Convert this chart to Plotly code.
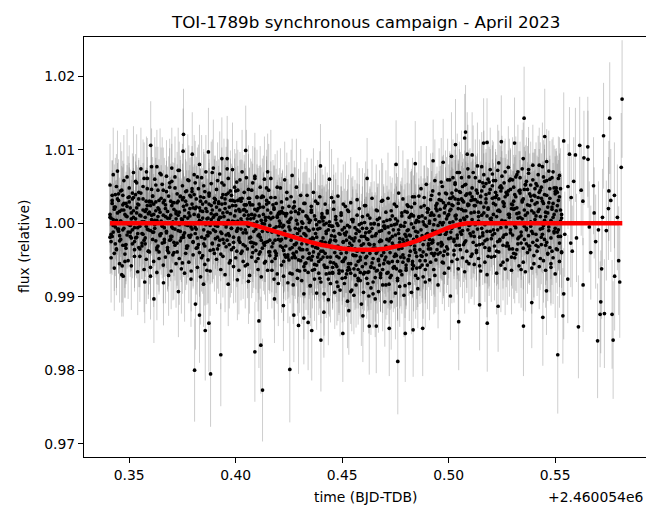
import plotly.graph_objects as go

# time offsets relative to BJD-TDB 2460054 (days)
BJD_OFFSET_LABEL = "+2.460054e6"

# common time stamps of the synchronous telescopes
time_main = [
 0.3410,0.3415,0.3420,0.3425,0.3430,0.3435,0.3440,0.3445,0.3450,0.3455,0.3460,0.3465,0.3470,0.3475,0.3480,0.3485,0.3490,0.3495,0.3500,0.3505,
 0.3510,0.3515,0.3520,0.3525,0.3530,0.3535,0.3540,0.3545,0.3550,0.3555,0.3560,0.3565,0.3570,0.3575,0.3580,0.3585,0.3590,0.3595,0.3600,0.3605,
 0.3610,0.3615,0.3620,0.3625,0.3630,0.3635,0.3640,0.3645,0.3650,0.3655,0.3660,0.3665,0.3670,0.3675,0.3680,0.3685,0.3690,0.3695,0.3700,0.3705,
 0.3710,0.3715,0.3720,0.3725,0.3730,0.3735,0.3740,0.3745,0.3750,0.3755,0.3760,0.3765,0.3770,0.3775,0.3780,0.3785,0.3790,0.3795,0.3800,0.3805,
 0.3810,0.3815,0.3820,0.3825,0.3830,0.3835,0.3840,0.3845,0.3850,0.3855,0.3860,0.3865,0.3870,0.3875,0.3880,0.3885,0.3890,0.3895,0.3900,0.3905,
 0.3910,0.3915,0.3920,0.3925,0.3930,0.3935,0.3940,0.3945,0.3950,0.3955,0.3960,0.3965,0.3970,0.3975,0.3980,0.3985,0.3990,0.3995,0.4000,0.4005,
 0.4010,0.4015,0.4020,0.4025,0.4030,0.4035,0.4040,0.4045,0.4050,0.4055,0.4060,0.4065,0.4070,0.4075,0.4080,0.4085,0.4090,0.4095,0.4100,0.4105,
 0.4110,0.4115,0.4120,0.4125,0.4130,0.4135,0.4140,0.4145,0.4150,0.4155,0.4160,0.4165,0.4170,0.4175,0.4180,0.4185,0.4190,0.4195,0.4200,0.4205,
 0.4210,0.4215,0.4220,0.4225,0.4230,0.4235,0.4240,0.4245,0.4250,0.4255,0.4260,0.4265,0.4270,0.4275,0.4280,0.4285,0.4290,0.4295,0.4300,0.4305,
 0.4310,0.4315,0.4320,0.4325,0.4330,0.4335,0.4340,0.4345,0.4350,0.4355,0.4360,0.4365,0.4370,0.4375,0.4380,0.4385,0.4390,0.4395,0.4400,0.4405,
 0.4410,0.4415,0.4420,0.4425,0.4430,0.4435,0.4440,0.4445,0.4450,0.4455,0.4460,0.4465,0.4470,0.4475,0.4480,0.4485,0.4490,0.4495,0.4500,0.4505,
 0.4510,0.4515,0.4520,0.4525,0.4530,0.4535,0.4540,0.4545,0.4550,0.4555,0.4560,0.4565,0.4570,0.4575,0.4580,0.4585,0.4590,0.4595,0.4600,0.4605,
 0.4610,0.4615,0.4620,0.4625,0.4630,0.4635,0.4640,0.4645,0.4650,0.4655,0.4660,0.4665,0.4670,0.4675,0.4680,0.4685,0.4690,0.4695,0.4700,0.4705,
 0.4710,0.4715,0.4720,0.4725,0.4730,0.4735,0.4740,0.4745,0.4750,0.4755,0.4760,0.4765,0.4770,0.4775,0.4780,0.4785,0.4790,0.4795,0.4800,0.4805,
 0.4810,0.4815,0.4820,0.4825,0.4830,0.4835,0.4840,0.4845,0.4850,0.4855,0.4860,0.4865,0.4870,0.4875,0.4880,0.4885,0.4890,0.4895,0.4900,0.4905,
 0.4910,0.4915,0.4920,0.4925,0.4930,0.4935,0.4940,0.4945,0.4950,0.4955,0.4960,0.4965,0.4970,0.4975,0.4980,0.4985,0.4990,0.4995,0.5000,0.5005,
 0.5010,0.5015,0.5020,0.5025,0.5030,0.5035,0.5040,0.5045,0.5050,0.5055,0.5060,0.5065,0.5070,0.5075,0.5080,0.5085,0.5090,0.5095,0.5100,0.5105,
 0.5110,0.5115,0.5120,0.5125,0.5130,0.5135,0.5140,0.5145,0.5150,0.5155,0.5160,0.5165,0.5170,0.5175,0.5180,0.5185,0.5190,0.5195,0.5200,0.5205,
 0.5210,0.5215,0.5220,0.5225,0.5230,0.5235,0.5240,0.5245,0.5250,0.5255,0.5260,0.5265,0.5270,0.5275,0.5280,0.5285,0.5290,0.5295,0.5300,0.5305,
 0.5310,0.5315,0.5320,0.5325,0.5330,0.5335,0.5340,0.5345,0.5350,0.5355,0.5360,0.5365,0.5370,0.5375,0.5380,0.5385,0.5390,0.5395,0.5400,0.5405,
 0.5410,0.5415,0.5420,0.5425,0.5430,0.5435,0.5440,0.5445,0.5450,0.5455,0.5460,0.5465,0.5470,0.5475,0.5480,0.5485,0.5490,0.5495,0.5500,0.5505,
 0.5510,0.5515,0.5520,0.5525,0.5530,
]

# telescope 1
flux_tel1 = [
 1.0012,0.9975,1.0038,1.0005,0.9959,1.0022,1.0050,0.9992,1.0031,0.9983,1.0003,1.0045,0.9970,1.0018,0.9948,1.0027,1.0009,0.9988,1.0036,0.9997,
 0.9980,1.0033,1.0008,0.9955,1.0057,1.0014,0.9994,1.0025,0.9965,1.0041,1.0002,0.9985,1.0061,0.9972,1.0019,1.0047,0.9991,1.0030,0.9940,1.0011,
 1.0037,0.9988,1.0004,1.0052,0.9967,1.0021,0.9952,1.0015,1.0066,0.9996,1.0028,0.9978,1.0009,1.0043,0.9963,1.0001,1.0055,0.9982,1.0024,0.9993,
 0.9974,1.0048,1.0013,0.9961,1.0030,1.0072,0.9989,1.0006,0.9946,1.0035,1.0018,0.9998,1.0044,0.9969,1.0058,1.0010,0.9984,1.0026,0.9957,1.0039,
 1.0020,0.9992,1.0063,0.9971,1.0004,1.0036,0.9953,1.0016,1.0051,0.9979,1.0029,0.9936,1.0007,1.0040,0.9987,1.0024,1.0069,0.9964,1.0011,0.9997,
 1.0046,0.9981,1.0027,1.0008,0.9958,1.0055,1.0014,0.9973,1.0033,0.9995,1.0074,0.9986,1.0022,0.9949,1.0038,1.0003,0.9967,1.0049,1.0017,0.9990,
 1.0031,0.9977,1.0059,1.0006,0.9962,1.0018,1.0042,0.9991,1.0025,0.9944,1.0011,1.0034,0.9981,1.0045,0.9968,0.9999,1.0061,0.9972,1.0017,0.9952,
 1.0010,0.9961,1.0035,0.9989,1.0022,0.9946,1.0004,1.0048,0.9975,1.0028,0.9977,1.0035,0.9948,1.0008,0.9993,0.9962,1.0027,0.9931,1.0013,0.9996,
 0.9969,1.0029,0.9995,0.9948,1.0013,0.9980,1.0042,0.9957,1.0001,0.9932,1.0015,0.9981,0.9959,1.0029,0.9971,1.0004,0.9936,0.9992,1.0019,0.9949,
 1.0002,0.9964,1.0027,0.9936,0.9983,1.0009,0.9952,0.9990,0.9915,1.0018,0.9969,0.9992,0.9937,1.0030,0.9981,0.9954,1.0002,0.9925,0.9975,1.0009,
 0.9962,1.0008,0.9940,0.9986,1.0017,0.9924,0.9974,0.9954,0.9996,0.9933,1.0029,0.9977,0.9944,1.0000,0.9914,0.9986,0.9965,1.0011,0.9935,0.9974,
 0.9986,0.9926,0.9977,1.0018,0.9945,0.9995,0.9907,0.9970,1.0005,0.9938,0.9980,0.9956,1.0011,0.9922,0.9989,0.9950,1.0000,0.9961,0.9931,1.0024,
 0.9953,0.9993,0.9918,0.9972,1.0007,0.9941,0.9982,0.9904,0.9999,0.9966,0.9935,1.0017,0.9949,0.9989,0.9926,0.9976,1.0031,0.9960,0.9993,0.9916,
 1.0004,0.9947,0.9976,0.9926,1.0017,0.9982,0.9940,0.9998,0.9958,1.0023,0.9922,0.9991,0.9974,0.9935,1.0010,0.9957,0.9996,0.9915,0.9982,1.0015,
 0.9951,1.0008,0.9971,1.0022,0.9938,0.9994,1.0036,0.9960,0.9982,0.9925,1.0008,0.9949,1.0022,0.9983,0.9961,1.0035,0.9937,0.9996,1.0015,0.9972,
 1.0000,0.9947,1.0038,0.9974,1.0011,0.9929,1.0024,0.9986,0.9958,1.0032,1.0001,0.9969,1.0050,0.9946,1.0021,0.9985,1.0040,0.9958,1.0012,1.0059,
 0.9980,1.0041,1.0024,0.9963,1.0055,1.0006,0.9951,1.0032,1.0069,0.9988,1.0019,1.0050,0.9971,1.0005,1.0038,0.9948,1.0024,1.0063,0.9986,1.0031,
 1.0048,0.9974,1.0015,1.0062,0.9960,1.0029,1.0003,0.9942,1.0036,1.0077,0.9983,1.0022,0.9967,1.0054,1.0010,0.9955,1.0041,1.0006,0.9979,1.0067,
 0.9991,1.0035,1.0058,0.9962,1.0017,1.0082,0.9976,1.0044,1.0001,0.9947,1.0027,1.0070,0.9985,1.0039,0.9969,1.0012,1.0060,0.9954,1.0025,1.0049,
 1.0020,0.9958,1.0066,1.0007,0.9981,1.0045,0.9937,1.0031,1.0088,0.9996,1.0052,0.9972,1.0014,1.0073,0.9964,1.0037,0.9989,1.0059,0.9945,1.0026,
 0.9970,1.0051,1.0016,1.0079,0.9952,1.0034,0.9993,1.0063,0.9978,1.0009,1.0084,0.9959,1.0028,1.0047,0.9940,1.0019,1.0070,0.9987,1.0040,0.9965,
 1.0042,0.9982,1.0065,1.0003,0.9961,
]

# telescope 2
flux_tel2 = [
 1.0008,0.9985,1.0027,0.9997,1.0019,0.9972,1.0004,1.0033,0.9989,1.0016,0.9978,1.0001,1.0038,0.9993,1.0012,0.9966,1.0023,0.9999,1.0029,0.9982,
 1.0014,0.9991,1.0035,0.9975,1.0006,1.0021,0.9986,1.0042,0.9996,1.0010,0.9969,1.0018,1.0002,0.9980,1.0030,0.9992,1.0013,0.9961,1.0024,1.0005,
 0.9988,1.0026,0.9998,1.0017,0.9964,1.0009,1.0031,0.9983,1.0003,0.9973,1.0045,0.9994,1.0020,0.9987,1.0007,1.0037,0.9977,1.0011,0.9995,1.0028,
 1.0019,0.9970,1.0006,1.0040,0.9990,1.0015,0.9976,1.0002,1.0032,0.9984,1.0009,0.9959,1.0025,0.9997,1.0014,0.9981,1.0036,0.9992,1.0021,0.9999,
 0.9994,1.0022,0.9967,1.0011,1.0003,1.0030,0.9981,1.0007,0.9972,1.0043,0.9998,1.0016,0.9988,1.0026,0.9963,1.0005,1.0018,0.9991,1.0034,0.9979,
 1.0012,0.9996,1.0029,0.9977,1.0008,0.9986,1.0039,0.9999,1.0020,0.9968,1.0015,1.0004,0.9983,1.0031,0.9993,1.0024,0.9974,1.0010,1.0044,0.9989,
 1.0003,0.9980,1.0016,0.9992,1.0034,0.9971,1.0011,1.0025,0.9987,1.0006,0.9996,1.0028,0.9974,1.0012,0.9960,1.0007,1.0019,0.9992,1.0035,0.9983,
 0.9985,1.0022,0.9977,1.0000,1.0036,0.9970,1.0008,0.9992,1.0018,0.9961,0.9997,1.0006,0.9968,0.9991,1.0021,0.9977,0.9959,1.0008,0.9984,1.0015,
 1.0000,0.9978,1.0021,0.9963,0.9989,0.9969,1.0013,0.9954,0.9995,1.0005,0.9977,0.9953,1.0021,0.9971,0.9993,0.9961,0.9986,1.0013,0.9966,0.9981,
 0.9972,1.0000,0.9941,0.9985,0.9994,0.9964,1.0006,0.9953,0.9978,1.0015,0.9955,0.9979,0.9944,0.9986,0.9998,0.9966,0.9932,0.9993,0.9962,1.0007,
 0.9980,0.9943,0.9974,1.0000,0.9954,0.9991,0.9932,0.9977,0.9967,0.9996,0.9946,0.9982,1.0009,0.9955,0.9969,0.9936,0.9985,0.9959,0.9991,0.9948,
 0.9951,0.9984,0.9960,0.9997,0.9940,0.9973,0.9932,0.9979,1.0002,0.9956,0.9965,0.9943,0.9991,0.9948,0.9976,0.9922,0.9970,0.9993,0.9961,0.9982,
 0.9987,0.9955,0.9978,0.9934,0.9971,0.9999,0.9946,0.9966,0.9939,0.9983,0.9959,1.0005,0.9951,0.9975,0.9932,0.9990,0.9964,0.9945,0.9996,0.9954,
 0.9965,0.9995,0.9946,0.9979,0.9929,0.9973,0.9991,0.9955,0.9984,0.9938,1.0003,0.9965,0.9979,0.9954,1.0014,0.9947,0.9974,0.9985,0.9936,0.9990,
 0.9991,0.9956,0.9983,1.0012,0.9948,0.9978,0.9964,1.0001,0.9939,0.9988,1.0002,0.9976,0.9956,1.0010,0.9971,0.9998,0.9949,0.9985,1.0020,0.9965,
 0.9978,1.0011,0.9973,0.9990,0.9956,1.0005,1.0020,0.9964,0.9997,0.9985,1.0019,0.9974,0.9998,0.9956,1.0014,0.9985,1.0006,0.9965,1.0027,1.0001,
 1.0019,0.9993,1.0036,0.9978,1.0010,1.0045,0.9984,1.0027,0.9970,1.0004,1.0033,0.9990,1.0017,1.0052,0.9976,1.0009,1.0026,0.9997,1.0041,0.9983,
 1.0005,1.0032,0.9982,1.0024,1.0045,0.9992,1.0015,0.9971,1.0037,1.0011,0.9987,1.0050,0.9998,1.0028,0.9978,1.0019,1.0056,0.9989,1.0007,1.0034,
 1.0027,0.9986,1.0042,1.0009,0.9975,1.0033,1.0016,0.9994,1.0048,0.9981,1.0023,1.0003,0.9969,1.0039,1.0012,1.0058,0.9991,1.0020,0.9984,1.0030,
 0.9997,1.0036,1.0013,0.9979,1.0044,1.0008,0.9988,1.0029,0.9966,1.0018,1.0053,0.9993,1.0025,0.9983,1.0040,1.0002,1.0031,0.9974,1.0014,1.0047,
 1.0010,0.9977,1.0035,1.0019,0.9992,1.0049,0.9985,1.0027,1.0004,0.9970,1.0038,1.0014,0.9995,1.0060,0.9980,1.0022,1.0008,0.9989,1.0043,1.0017,
 1.0024,0.9991,1.0036,0.9982,1.0012,
]

# telescope 3
flux_tel3 = [
 0.9981,1.0007,1.0031,0.9988,1.0022,0.9995,0.9964,1.0014,1.0040,0.9976,1.0003,1.0018,0.9991,1.0027,0.9970,1.0010,0.9984,1.0035,0.9998,1.0021,
 1.0006,0.9972,1.0017,0.9994,1.0039,0.9981,1.0026,0.9967,1.0011,1.0001,0.9986,1.0033,0.9977,1.0008,0.9996,1.0024,0.9962,1.0015,0.9990,1.0029,
 0.9978,1.0012,0.9993,1.0029,1.0004,0.9969,1.0019,0.9985,1.0034,0.9997,1.0011,0.9974,1.0025,0.9989,1.0016,0.9960,1.0007,1.0030,0.9982,1.0002,
 1.0028,0.9992,1.0016,0.9973,1.0011,0.9998,1.0037,0.9980,1.0005,1.0023,0.9987,1.0030,0.9966,1.0007,0.9983,1.0020,0.9995,1.0043,0.9975,1.0012,
 0.9986,1.0033,0.9980,1.0009,0.9960,1.0017,1.0002,1.0026,0.9991,0.9969,1.0020,1.0006,0.9983,1.0037,0.9997,1.0013,0.9973,1.0008,1.0028,0.9989,
 1.0022,0.9965,1.0005,1.0018,0.9988,1.0035,0.9978,1.0009,1.0027,0.9984,0.9999,1.0041,0.9971,1.0013,0.9993,1.0031,0.9981,1.0002,1.0024,0.9962,
 0.9993,1.0019,0.9974,1.0030,1.0002,0.9987,1.0025,0.9969,1.0016,0.9998,1.0034,0.9980,1.0006,0.9974,1.0025,0.9989,1.0011,0.9963,1.0002,1.0020,
 1.0026,0.9981,1.0004,0.9966,1.0012,0.9999,0.9974,1.0031,0.9989,1.0008,0.9956,1.0014,0.9988,0.9973,1.0019,0.9952,0.9995,1.0010,0.9978,1.0003,
 0.9976,1.0016,0.9967,0.9997,0.9957,1.0010,0.9983,1.0002,0.9950,0.9991,1.0007,0.9967,0.9983,0.9956,1.0016,0.9973,0.9999,0.9950,0.9990,0.9964,
 0.9994,0.9954,0.9986,0.9945,1.0010,0.9972,0.9991,0.9959,1.0004,0.9950,0.9980,0.9961,1.0010,0.9967,0.9943,0.9992,0.9958,1.0002,0.9951,0.9975,
 0.9954,0.9998,0.9959,0.9989,0.9940,0.9970,1.0002,0.9947,0.9983,0.9932,0.9990,0.9960,0.9976,0.9941,0.9997,0.9953,0.9965,1.0003,0.9948,0.9975,
 0.9994,0.9953,0.9988,0.9936,0.9967,0.9981,0.9945,1.0005,0.9957,0.9976,0.9929,0.9986,0.9962,0.9937,0.9998,0.9954,0.9982,0.9941,0.9972,0.9933,
 0.9945,0.9979,0.9933,0.9988,0.9959,0.9940,0.9993,0.9952,0.9971,0.9926,0.9986,0.9962,0.9998,0.9943,0.9977,0.9956,0.9937,1.0002,0.9950,0.9969,
 0.9978,0.9933,0.9987,0.9960,0.9997,0.9948,0.9970,0.9941,1.0006,0.9956,0.9948,0.9986,0.9935,0.9997,0.9966,0.9978,0.9953,1.0001,0.9943,0.9977,
 0.9949,0.9984,0.9962,0.9999,0.9944,1.0010,0.9969,0.9989,0.9955,0.9978,1.0009,0.9964,0.9991,0.9943,1.0002,0.9978,1.0007,0.9957,0.9986,0.9970,
 1.0003,0.9965,1.0014,0.9977,0.9998,0.9959,0.9989,1.0017,0.9972,1.0010,0.9985,1.0031,0.9971,1.0001,0.9962,1.0024,0.9988,1.0010,0.9979,1.0017,
 0.9988,1.0025,1.0002,0.9975,1.0033,1.0011,0.9980,1.0020,0.9994,1.0042,0.9985,1.0031,1.0007,0.9974,1.0017,1.0040,0.9991,1.0025,0.9998,1.0014,
 1.0036,0.9988,1.0024,0.9998,0.9970,1.0041,1.0009,0.9981,1.0028,0.9993,1.0055,1.0014,0.9976,1.0033,0.9989,1.0021,0.9963,1.0046,1.0003,0.9984,
 1.0012,0.9969,1.0025,1.0038,0.9991,1.0018,0.9978,1.0051,1.0004,1.0029,0.9984,1.0036,0.9995,0.9973,1.0044,1.0008,0.9987,1.0026,0.9965,1.0019,
 1.0039,0.9994,1.0021,0.9972,1.0014,1.0062,0.9983,1.0006,1.0033,0.9978,1.0011,0.9991,1.0046,0.9969,1.0024,0.9996,1.0017,0.9986,1.0038,1.0005,
 0.9985,1.0028,0.9968,1.0042,1.0009,0.9981,1.0030,0.9997,1.0057,1.0015,0.9974,1.0022,0.9990,1.0034,1.0004,0.9962,1.0027,1.0012,0.9993,1.0048,
 0.9988,1.0031,0.9973,1.0018,1.0007,
]

# telescope 4 (noisier)
flux_tel4 = [
 1.0052,0.9953,0.9982,1.0066,0.9939,1.0039,0.9965,1.0071,0.9992,0.9945,1.0044,0.9930,1.0025,1.0058,0.9958,0.9971,1.0063,0.9949,1.0048,0.9988,
 0.9942,1.0041,1.0069,0.9964,0.9980,1.0055,0.9934,1.0033,0.9955,1.0074,0.9973,1.0050,0.9937,1.0016,0.9951,1.0061,0.9962,1.0029,0.9928,1.0046,
 1.0037,0.9948,1.0060,0.9976,0.9933,1.0045,0.9961,1.0068,0.9986,1.0053,0.9943,1.0031,0.9954,1.0064,0.9967,0.9929,1.0049,0.9978,1.0057,0.9957,
 0.9960,1.0063,0.9945,1.0028,1.0072,0.9952,1.0036,0.9938,1.0051,0.9981,0.9932,1.0043,0.9969,1.0059,0.9947,1.0038,0.9924,1.0047,0.9974,1.0066,
 1.0055,0.9966,0.9940,1.0047,1.0021,0.9927,1.0062,0.9956,1.0035,0.9944,1.0070,0.9983,0.9950,1.0041,0.9935,1.0054,0.9972,1.0075,0.9959,1.0032,
 0.9951,1.0058,0.9970,1.0067,0.9937,1.0026,0.9955,1.0052,0.9930,1.0039,0.9977,1.0061,0.9946,1.0044,0.9964,1.0073,0.9941,1.0030,0.9953,1.0056,
 1.0045,0.9936,1.0033,0.9959,1.0070,0.9948,1.0019,0.9942,1.0062,0.9965,1.0046,0.9929,1.0025,0.9954,1.0055,0.9973,1.0064,0.9948,1.0036,0.9937,
 0.9958,1.0049,0.9927,1.0037,0.9973,1.0060,0.9948,1.0026,0.9936,1.0045,0.9961,1.0061,0.9936,1.0025,0.9924,1.0035,0.9956,1.0049,0.9918,1.0013,
 1.0048,0.9943,1.0014,0.9928,1.0059,0.9954,1.0033,0.9919,1.0023,0.9965,1.0036,0.9931,0.9916,1.0023,0.9953,1.0049,0.9925,1.0014,0.9935,1.0038,
 0.9922,1.0016,0.9904,1.0027,0.9946,1.0038,0.9933,1.0001,0.9915,1.0023,0.9936,1.0042,0.9924,1.0005,0.9905,1.0027,0.9948,1.0036,0.9920,1.0013,
 1.0003,0.9904,1.0026,0.9931,1.0014,0.9896,0.9997,0.9918,1.0035,0.9940,1.0019,0.9906,1.0005,0.9920,1.0037,0.9932,0.9909,1.0014,0.9925,1.0026,
 0.9918,1.0023,0.9931,0.9894,1.0016,0.9937,1.0028,0.9909,1.0005,0.9902,0.9994,0.9916,1.0032,0.9925,1.0020,0.9933,0.9890,1.0009,0.9906,1.0001,
 1.0024,0.9925,1.0011,0.9901,0.9989,0.9912,1.0034,0.9920,1.0000,0.9897,1.0018,0.9936,0.9907,1.0007,0.9930,1.0030,0.9916,0.9996,0.9893,1.0015,
 0.9932,1.0034,0.9917,1.0005,0.9893,1.0010,0.9939,1.0026,0.9905,0.9999,0.9925,1.0041,0.9914,0.9996,0.9930,1.0033,0.9902,1.0016,0.9939,1.0025,
 1.0023,0.9918,1.0010,0.9906,1.0036,0.9942,1.0027,0.9929,1.0004,0.9911,1.0037,0.9940,1.0047,0.9955,0.9927,1.0024,0.9920,1.0053,0.9943,1.0019,
 0.9923,1.0032,0.9959,1.0044,0.9937,1.0058,0.9950,1.0027,0.9916,1.0040,0.9960,1.0056,0.9947,1.0028,0.9932,1.0041,0.9968,1.0059,0.9939,1.0034,
 1.0034,0.9948,1.0062,0.9957,1.0053,0.9970,1.0069,0.9938,1.0043,0.9964,1.0062,0.9953,1.0029,0.9934,1.0053,0.9962,1.0074,0.9945,1.0040,0.9955,
 0.9958,1.0069,0.9944,1.0032,0.9963,1.0078,0.9952,1.0057,0.9935,1.0044,0.9972,1.0066,0.9947,1.0039,0.9930,1.0060,0.9966,1.0073,0.9954,1.0051,
 1.0058,0.9955,1.0035,0.9932,1.0072,0.9961,1.0049,0.9943,1.0064,0.9970,1.0055,0.9938,1.0042,0.9950,1.0076,0.9965,1.0046,0.9936,1.0059,0.9959,
 0.9953,1.0063,0.9964,1.0070,0.9942,1.0041,0.9973,1.0074,0.9947,1.0046,0.9934,1.0057,0.9960,1.0068,0.9969,1.0052,0.9939,1.0079,0.9956,1.0037,
 1.0054,0.9962,1.0066,0.9941,1.0045,0.9971,1.0077,0.9949,1.0039,0.9936,1.0058,0.9958,1.0071,0.9967,0.9945,1.0062,0.9953,1.0048,0.9931,1.0044,
 0.9964,1.0061,0.9948,1.0047,0.9960,
]

# flux uncertainties in units of 1e-4
err_tel1_e4 = [
 42,38,47,40,51,36,44,49,39,45,41,53,37,46,50,43,38,48,40,44, 45,39,50,43,37,48,42,46,52,38,44,41,49,36,47,43,51,40,45,39,
 40,47,43,52,38,45,49,41,37,50,44,39,46,42,53,38,47,43,41,48, 46,41,38,50,44,39,47,52,42,37,45,49,40,43,48,51,38,44,46,41,
 43,49,40,45,52,38,46,41,50,44,37,47,53,42,39,48,45,40,51,43, 39,46,51,42,37,48,44,40,53,45,41,38,47,50,43,39,46,52,44,41,
 47,42,38,49,45,40,51,43,37,46,52,41,44,39,48,50,42,45,38,47, 44,50,41,37,48,43,46,52,39,45,40,49,42,38,51,44,47,41,53,40,
 48,39,45,51,42,46,37,50,43,41,49,44,38,47,52,40,45,42,39,50, 41,47,43,38,52,45,40,49,44,37,46,51,42,48,39,43,50,41,45,38,
 50,43,39,46,41,48,52,38,45,42,37,49,44,40,47,51,43,39,46,42, 45,40,48,42,51,37,44,49,41,46,39,52,43,38,47,45,40,50,42,44,
 42,49,38,45,43,50,41,47,39,52,44,37,48,42,46,40,51,43,38,47, 47,41,51,44,38,46,42,49,40,45,53,39,43,48,41,37,50,44,46,40,
 40,46,43,52,38,47,41,45,50,39,44,48,42,37,51,43,46,40,49,45, 44,38,49,42,46,51,40,43,47,39,52,45,41,48,37,44,50,42,46,39,
 46,43,50,39,45,41,48,53,42,47,38,44,51,40,46,43,49,37,45,52, 41,48,44,52,39,46,43,50,40,47,45,38,49,42,53,44,41,47,39,46,
 48,42,39,47,51,44,40,46,43,52,38,45,49,41,47,50,42,39,46,44, 43,50,45,38,47,41,52,44,49,40,46,39,51,43,48,42,45,37,50,47,
 45,41,48,51,43,39,46,50,42,47,44,52,40,45,49,38,47,43,51,46, 50,47,52,45,49,
]

err_tel2_e4 = [
 48,53,45,57,50,44,55,49,58,46,52,60,47,54,51,45,56,49,53,48, 51,46,56,49,44,58,52,47,55,50,45,57,48,53,46,59,50,44,54,49,
 46,55,50,59,47,52,56,45,53,48,58,51,44,57,49,54,46,52,47,55, 54,48,44,57,51,46,53,59,49,45,55,50,47,52,58,46,54,49,56,48,
 50,56,47,52,59,45,53,48,57,51,44,55,60,49,46,54,52,47,58,50, 47,54,58,49,45,56,51,46,59,52,48,44,55,57,50,47,53,60,51,48,
 55,49,45,56,52,47,58,50,44,53,59,48,51,46,55,57,49,52,45,54, 52,57,48,44,56,50,53,59,46,52,47,56,49,45,58,51,54,48,60,47,
 56,46,52,58,49,53,44,57,50,48,56,51,45,54,59,47,52,49,46,57, 48,54,50,45,59,52,47,56,51,44,53,58,49,55,46,50,57,48,52,45,
 57,50,46,53,48,55,59,45,52,49,44,56,51,47,54,58,50,46,53,49, 52,47,55,49,58,44,51,56,48,53,46,59,50,45,54,52,47,57,49,51,
 49,56,45,52,50,57,48,54,46,59,51,44,55,49,53,47,58,50,45,54, 54,48,58,51,45,53,49,56,47,52,60,46,50,55,48,44,57,51,53,47,
 47,53,50,59,45,54,48,52,57,46,51,55,49,44,58,50,53,47,56,52, 51,45,56,49,53,58,47,50,54,46,59,52,48,55,44,51,57,49,53,46,
 53,50,57,46,52,48,55,60,49,54,45,51,58,47,53,50,56,44,52,59, 48,55,51,59,46,53,50,57,47,54,52,45,56,49,60,51,48,54,46,53,
 55,49,46,54,58,51,47,53,50,59,45,52,56,48,54,57,49,46,53,51, 50,57,52,45,54,48,59,51,56,47,53,46,58,50,55,49,52,44,57,54,
 52,48,55,58,50,46,53,57,49,54,51,59,47,52,56,45,54,50,58,53, 57,54,59,52,56,
]

err_tel3_e4 = [
 50,46,55,48,58,44,52,57,47,53,49,60,45,54,58,51,46,56,48,52, 53,47,58,51,45,56,50,54,60,46,52,49,57,44,55,51,59,48,53,47,
 48,55,51,60,46,53,57,49,45,58,52,47,54,50,61,46,55,51,49,56, 54,49,46,58,52,47,55,60,50,45,53,57,48,51,56,59,46,52,54,49,
 51,57,48,53,60,46,54,49,58,52,45,55,61,50,47,56,53,48,59,51, 47,54,59,50,45,56,52,48,61,53,49,46,55,58,51,47,54,60,52,49,
 55,50,46,57,53,48,59,51,45,54,60,49,52,47,56,58,50,53,46,55, 52,58,49,45,56,51,54,60,47,53,48,57,50,46,59,52,55,49,61,48,
 56,47,53,59,50,54,45,58,51,49,57,52,46,55,60,48,53,50,47,58, 49,55,51,46,60,53,48,57,52,45,54,59,50,56,47,51,58,49,53,46,
 58,51,47,54,49,56,60,46,53,50,45,57,52,48,55,59,51,47,54,50, 53,48,56,50,59,45,52,57,49,54,47,60,51,46,55,53,48,58,50,52,
 50,57,46,53,51,58,49,55,47,60,52,45,56,50,54,48,59,51,46,55, 55,49,59,52,46,54,50,57,48,53,61,47,51,56,49,45,58,52,54,48,
 48,54,51,60,46,55,49,53,58,47,52,56,50,45,59,51,54,48,57,53, 52,46,57,50,54,59,48,51,55,47,60,53,49,56,45,52,58,50,54,47,
 54,51,58,47,53,49,56,61,50,55,46,52,59,48,54,51,57,45,53,60, 49,56,52,60,47,54,51,58,48,55,53,46,57,50,61,52,49,55,47,54,
 56,50,47,55,59,52,48,54,51,60,46,53,57,49,55,58,50,47,54,52, 51,58,53,46,55,49,60,52,57,48,54,47,59,51,56,50,53,45,58,55,
 53,49,56,59,51,47,54,58,50,55,52,60,48,53,57,46,55,51,59,54, 58,55,60,53,57,
]

err_tel4_e4 = [
 56,61,52,64,58,50,63,55,60,53,66,57,51,62,59,54,65,52,58,61, 60,54,63,57,51,66,59,53,62,56,49,64,58,52,61,55,65,50,59,63,
 53,62,57,50,65,59,54,61,56,64,52,58,63,49,60,55,66,57,51,62, 64,55,60,52,58,63,50,61,57,54,66,59,53,62,56,51,65,58,60,54,
 57,63,51,60,55,65,58,52,62,56,50,64,59,53,61,57,54,66,52,60, 61,52,66,58,54,60,56,63,51,65,57,53,62,55,59,64,50,58,61,56,
 55,60,53,64,57,51,62,58,65,54,60,52,63,56,50,61,59,55,64,57, 62,56,59,51,65,58,54,60,53,63,57,66,52,61,55,59,64,50,58,62,
 54,65,57,61,52,59,63,55,60,50,64,58,53,62,56,66,51,60,57,63, 59,53,62,56,64,51,58,61,55,65,52,60,57,63,50,59,54,62,56,61,
 63,57,51,60,55,62,58,53,66,56,61,50,64,59,52,57,63,55,60,54, 52,61,58,64,50,57,62,56,59,53,65,58,51,63,55,60,57,66,54,59,
 60,55,63,51,58,64,53,61,57,52,62,59,56,65,50,58,63,54,61,57, 57,62,54,59,65,52,60,56,63,51,58,64,55,61,53,66,57,59,52,62,
 64,51,60,57,53,62,56,59,65,54,61,50,58,63,57,55,62,52,60,56, 55,63,58,52,61,56,64,50,59,62,54,60,57,65,51,58,63,56,53,61,
 61,57,52,65,56,60,53,62,58,51,64,55,59,57,63,50,60,54,62,58, 58,64,55,61,50,59,63,57,52,66,56,60,54,62,58,53,65,57,61,55,
 53,60,66,56,62,51,58,64,55,59,57,63,52,61,56,65,54,60,58,62, 62,55,59,64,51,57,61,53,66,58,54,60,56,63,50,59,62,55,57,64,
 56,61,53,58,65,54,60,57,62,51,59,64,55,61,57,52,63,58,60,54, 60,57,63,55,59,
]

# outlying / sparse points read individually
time_extra = [
 0.3581,0.3601,0.3605,0.3630,0.3700,0.3753,0.3755,0.3796,0.3830,0.3872,0.3935,0.3960,0.4047,0.4150,0.4265,0.4398,0.4440,
 0.4617,0.4753,0.4843,0.4927,0.4974,0.5013,0.5032,0.5075,0.5079,0.5087,0.5110,0.5164,0.5180,0.5247,0.5309,0.5354,0.5451,
 0.3467,0.3472,0.3573,0.3616,0.3661,0.3697,0.3731,0.3791,0.3807,0.3811,0.3830,0.3849,0.3857,0.3874,0.3882,0.3930,0.3965,
 0.4008,0.4060,0.4090,0.4109,0.4118,0.4126,0.4182,0.4224,0.4254,0.4273,0.4295,0.4320,0.4340,0.4357,0.4400,0.4414,0.4503,
 0.4531,0.4597,0.4627,0.4660,0.4721,0.4761,0.4796,0.4833,0.4878,0.5008,0.5047,0.5145,0.5181,0.5232,0.5351,0.5390,0.5442,0.5459,
 0.5512,0.5536,0.5540,0.5540,0.5545,0.5559,0.5560,0.5567,0.5573,0.5575,0.5580,0.5587,0.5595,0.5600,0.5609,0.5615,0.5622,
 0.5630,0.5631,0.5635,0.5653,0.5654,0.5660,0.5667,0.5680,0.5683,0.5690,0.5699,0.5703,0.5711,0.5714,0.5718,0.5722,0.5727,
 0.5731,0.5740,0.5750,0.5752,0.5756,0.5761,0.5767,0.5772,0.5778,0.5779,0.5792,0.5798,0.5803,0.5810,0.5814,
]

flux_extra = [
 1.0070,1.0106,1.0077,1.0077,1.0075,1.0098,1.0121,1.0094,1.0080,1.0097,1.0088,1.0088,1.0099,1.0070,1.0065,1.0078,1.0060,
 1.0061,1.0080,1.0081,1.0085,1.0083,1.0091,1.0107,1.0116,1.0124,1.0094,1.0093,1.0109,1.0110,1.0111,1.0109,1.0143,1.0118,
 0.9942,0.9928,0.9920,0.9897,0.9919,0.9935,0.9907,0.9935,0.9800,0.9890,0.9875,0.9917,0.9854,0.9864,0.9795,0.9821,0.9917,
 0.9923,0.9921,0.9825,0.9867,0.9834,0.9773,0.9897,0.9888,0.9801,0.9875,0.9861,0.9871,0.9865,0.9854,0.9841,0.9879,0.9850,
 0.9881,0.9874,0.9860,0.9860,0.9857,0.9812,0.9850,0.9855,0.9857,0.9901,0.9866,0.9889,0.9864,0.9887,0.9860,0.9892,0.9872,0.9908,
 0.9821,0.9874,1.0112,0.9904,0.9985,0.9924,1.0050,1.0094,0.9973,1.0035,0.9962,1.0057,1.0093,0.9980,0.9859,1.0106,1.0045,
 1.0030,0.9916,1.0089,1.0104,1.0087,0.9995,0.9960,1.0051,1.0014,0.9975,0.9840,0.9991,0.9876,0.9893,0.9938,1.0008,1.0119,
 0.9877,0.9990,1.0020,1.0044,1.0143,1.0031,0.9876,0.9841,1.0038,0.9928,1.0008,0.9949,0.9920,1.0076,1.0169,
]

err_extra_e4 = [
 48,60,52,50,55,58,62,57,54,60,56,58,61,52,50,57,52,
 55,60,58,56,59,60,62,60,64,57,58,61,60,63,62,70,65,
 50,55,56,60,58,52,62,55,70,62,65,58,68,66,72,70,57,
 55,58,68,64,66,70,60,62,72,64,66,63,65,68,70,62,66,
 60,63,66,64,65,72,66,64,65,60,66,62,66,62,68,62,66,60,
 80,65,66,62,58,60,58,64,60,58,62,60,64,60,70,66,62,
 60,64,64,68,66,62,64,66,62,64,78,66,72,70,68,66,72,
 74,68,70,68,76,70,74,80,72,74,72,74,76,74,80,
]

# transit model curve
time_model = [0.3410,0.4057,0.4100,0.4150,0.4200,0.4250,0.4300,0.4350,0.4400,0.4450,0.4500,0.4550,
              0.4600,0.4650,0.4700,0.4750,0.4800,0.4850,0.4900,0.4950,0.5000,0.5050,0.5087,0.5815]
flux_model = [1.0000,1.0000,0.99963,0.99916,0.99870,0.99825,0.99783,0.99743,0.99708,0.99679,0.99657,0.99643,
              0.99637,0.99640,0.99652,0.99676,0.99712,0.99760,0.99820,0.99882,0.99940,0.99982,1.0000,1.0000]

x_ticks = [0.35, 0.40, 0.45, 0.50, 0.55]
y_ticks = [0.97, 0.98, 0.99, 1.00, 1.01, 1.02]

t_all = time_main * 4 + time_extra
f_all = flux_tel1 + flux_tel2 + flux_tel3 + flux_tel4 + flux_extra
e_all = [v * 1e-4 for v in (err_tel1_e4 + err_tel2_e4 + err_tel3_e4 + err_tel4_e4 + err_extra_e4)]

FONT = "DejaVu Sans"
fig = go.Figure()
fig.add_trace(go.Scatter(
    x=t_all, y=f_all, mode="markers",
    marker=dict(color="black", size=3.7, line=dict(width=0)),
    error_y=dict(type="data", array=e_all, visible=True, color="rgba(100,100,100,0.32)", thickness=1, width=0),
    hoverinfo="skip",
))
fig.add_trace(go.Scatter(
    x=time_model, y=flux_model, mode="lines",
    line=dict(color="red", width=4.5),
))

W, H = 646, 507
L, R, T, B = 84, 0, 37, 50
pw, ph = W - L - R, H - T - B
xr = [0.32878, 0.32878 + pw / 2130.0]
yr = [0.96819, 1.02534]

axis_common = dict(showline=True, linecolor="black", linewidth=1, mirror=True, ticks="outside",
                   ticklen=5, tickwidth=1, tickcolor="black", showgrid=False, zeroline=False,
                   tickfont=dict(family=FONT, size=13.9, color="black"))
fig.update_xaxes(range=xr, tickvals=x_ticks, ticktext=[f"{v:.2f}" for v in x_ticks], **axis_common)
fig.update_yaxes(range=yr, tickvals=y_ticks, ticktext=[f"{v:.2f}" for v in y_ticks], **axis_common)

def py(pix):
    return (H - B - pix) / ph

fig.update_layout(
    width=W, height=H, margin=dict(l=L, r=R, t=T, b=B),
    paper_bgcolor="white", plot_bgcolor="white", showlegend=False,
    font=dict(family=FONT, color="black"),
    annotations=[
        dict(text="TOI-1789b synchronous campaign - April 2023", x=0.5, y=py(22), xref="paper", yref="paper",
             xanchor="center", yanchor="middle", showarrow=False, font=dict(size=16.7)),
        dict(text="time (BJD-TDB)", x=0.5, y=py(497), xref="paper", yref="paper",
             xanchor="center", yanchor="middle", showarrow=False, font=dict(size=13.9)),
        dict(text=BJD_OFFSET_LABEL, x=(645 - L) / pw, y=py(497), xref="paper", yref="paper",
             xanchor="right", yanchor="middle", showarrow=False, font=dict(size=13.9)),
        dict(text="flux (relative)", x=(24 - L) / pw, y=0.5, xref="paper", yref="paper", textangle=-90,
             xanchor="center", yanchor="middle", showarrow=False, font=dict(size=13.9)),
    ],
)
fig.write_html("out.html")
